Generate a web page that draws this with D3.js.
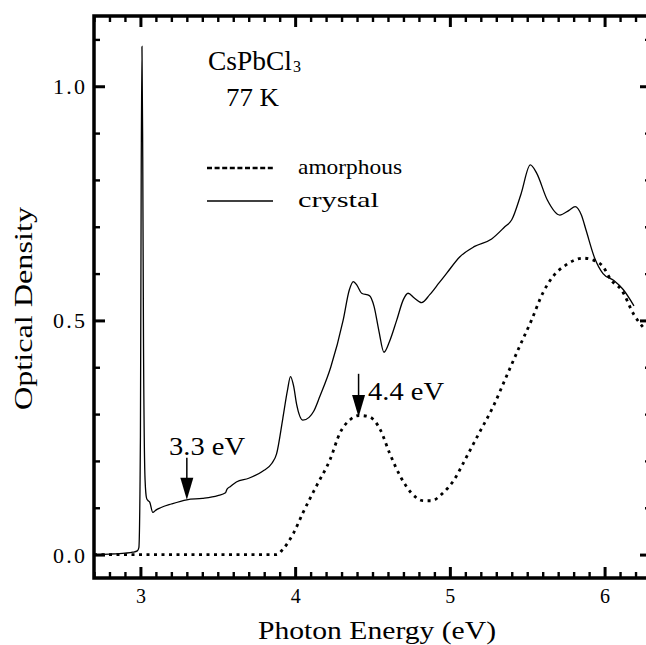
<!DOCTYPE html>
<html>
<head>
<meta charset="utf-8">
<script src="https://cdn.jsdelivr.net/npm/d3@7"></script>
<style>
  html, body { margin: 0; padding: 0; background: #fff; }
  svg { display: block; font-family: "Liberation Serif", serif; }
</style>
</head>
<body>
<div id="chart"></div>
<script>
// Optical density of CsPbCl3 at 77 K: crystal (solid) vs amorphous (dotted) film.
const crystalE = [2.70, 2.80, 2.90, 2.95, 2.98, 2.99, 3.00, 3.005, 3.01, 3.015, 3.02, 3.03, 3.04, 3.05,
  3.06, 3.08, 3.10, 3.13, 3.20, 3.30, 3.40, 3.50, 3.55, 3.56, 3.58, 3.62, 3.70, 3.79, 3.85, 3.88,
  3.92, 3.95, 3.97, 3.99, 4.01, 4.05, 4.09, 4.12, 4.16, 4.23, 4.31, 4.35, 4.376, 4.40, 4.43, 4.48,
  4.51, 4.54, 4.574, 4.61, 4.656, 4.70, 4.73, 4.77, 4.817, 4.87, 4.93, 4.98, 5.065, 5.16, 5.27,
  5.355, 5.40, 5.46, 5.52, 5.56, 5.63, 5.71, 5.77, 5.81, 5.85, 5.88, 5.935, 5.99, 6.06, 6.12, 6.19];
const crystalOD = [0.000, 0.001, 0.003, 0.005, 0.008, 0.015, 0.25, 0.80, 1.085, 0.85, 0.45, 0.16, 0.12, 0.115,
  0.112, 0.090, 0.095, 0.100, 0.108, 0.117, 0.120, 0.126, 0.132, 0.140, 0.145, 0.155, 0.163, 0.178, 0.195, 0.215,
  0.29, 0.35, 0.38, 0.36, 0.32, 0.287, 0.293, 0.306, 0.338, 0.40, 0.50, 0.565, 0.583, 0.575, 0.558, 0.553,
  0.53, 0.48, 0.432, 0.455, 0.50, 0.545, 0.558, 0.548, 0.538, 0.555, 0.58, 0.601, 0.636, 0.658, 0.674,
  0.70, 0.715, 0.77, 0.832, 0.815, 0.757, 0.725, 0.735, 0.743, 0.725, 0.693, 0.634, 0.60, 0.585, 0.566, 0.531];

const amorphE = [2.70, 3.30, 3.88, 3.92, 3.99, 4.05, 4.14, 4.226, 4.29, 4.355, 4.415, 4.48, 4.55, 4.61,
  4.68, 4.75, 4.83, 4.88, 4.957, 5.02, 5.11, 5.19, 5.28, 5.365, 5.45, 5.527, 5.60, 5.667, 5.753,
  5.86, 5.925, 5.99, 6.04, 6.11, 6.19, 6.25];
const amorphOD = [0.000, 0.000, 0.000, 0.011, 0.046, 0.089, 0.148, 0.203, 0.26, 0.288, 0.297, 0.294, 0.267, 0.217,
  0.167, 0.132, 0.115, 0.115, 0.132, 0.156, 0.21, 0.26, 0.316, 0.38, 0.444, 0.50, 0.558, 0.594, 0.619,
  0.633, 0.629, 0.615, 0.587, 0.565, 0.512, 0.485];

const xMajor = [3, 4, 5, 6];
const yMajor = [0.0, 0.5, 1.0];
const yLabels = ["0.0", "0.5", "1.0"];

// arrows: energy, OD at tail, OD at tip, label
const marks = [
  { e: 3.30, from: 0.207, to: 0.117, label: "3.3 eV" },
  { e: 4.41, from: 0.386, to: 0.294, label: "4.4 eV" }
];

const W = 646, H = 645;
const mLeft = 94, mTop = 16, mBottom = 578, mRight = 651;

const x = d3.scaleLinear([2.7, 6.3], [mLeft, mRight]);
const y = d3.scaleLinear([-0.05, 1.15], [mBottom, mTop]);
const xMinor = d3.range(27, 64).map(d => d / 10).filter(d => !xMajor.some(m => Math.abs(m - d) < 1e-9));
const yMinor = d3.range(0, 12).map(d => d / 10).filter(d => !yMajor.some(m => Math.abs(m - d) < 1e-9));

const svg = d3.select("#chart").append("svg")
  .attr("width", W).attr("height", H).attr("viewBox", `0 0 ${W} ${H}`);

svg.append("defs").append("clipPath").attr("id", "plot")
  .append("rect").attr("x", mLeft).attr("y", mTop).attr("width", mRight - mLeft).attr("height", mBottom - mTop);

// ticks, all pointing inward
function axis(gen, tr, vals, size, labels) {
  const g = svg.append("g").attr("transform", tr)
    .call(gen.tickValues(vals).tickSize(-size).tickPadding(9)
      .tickFormat(labels ? (d, i) => labels[i] : () => ""));
  g.select(".domain").remove();
  g.attr("font-family", null).attr("font-size", null);
  g.selectAll(".tick line").attr("stroke", "#000").attr("stroke-width", size > 8 ? 3 : 2.4);
  return g;
}
const gx = axis(d3.axisBottom(x), `translate(0,${mBottom})`, xMajor, 11, xMajor.map(String));
axis(d3.axisBottom(x), `translate(0,${mBottom})`, xMinor, 6);
axis(d3.axisTop(x), `translate(0,${mTop})`, xMajor, 11);
axis(d3.axisTop(x), `translate(0,${mTop})`, xMinor, 6);
const gy = axis(d3.axisLeft(y), `translate(${mLeft},0)`, yMajor, 11, yLabels);
axis(d3.axisLeft(y), `translate(${mLeft},0)`, yMinor, 6);
axis(d3.axisRight(y), `translate(${mRight},0)`, yMajor, 11);
axis(d3.axisRight(y), `translate(${mRight},0)`, yMinor, 6);

gx.selectAll("text").attr("font-size", 20).attr("fill", "#000").attr("dy", null).attr("y", 25);
gy.selectAll("text").attr("font-size", 22).attr("fill", "#000").attr("x", -9).attr("dy", "0.34em")
  .attr("textLength", 32).attr("lengthAdjust", "spacing");

// frame
svg.append("rect").attr("x", mLeft).attr("y", mTop).attr("width", mRight - mLeft).attr("height", mBottom - mTop)
  .attr("fill", "none").attr("stroke", "#000").attr("stroke-width", 3.5);

const line = d3.line().x(d => x(d[0])).y(d => y(d[1])).curve(d3.curveMonotoneX);
const plot = svg.append("g").attr("clip-path", "url(#plot)");

plot.append("path").datum(d3.zip(amorphE, amorphOD))
  .attr("d", line)
  .attr("fill", "none").attr("stroke", "#000").attr("stroke-width", 2.8)
  .attr("stroke-dasharray", "3,4.5");

plot.append("path").datum(d3.zip(crystalE, crystalOD))
  .attr("d", line)
  .attr("fill", "none").attr("stroke", "#000").attr("stroke-width", 1.3);

// arrows
const ann = svg.append("g");
marks.forEach(m => {
  const ax = x(m.e), y0 = y(m.from), y1 = y(m.to);
  ann.append("line").attr("x1", ax).attr("x2", ax).attr("y1", y0).attr("y2", y1 - 18)
    .attr("stroke", "#000").attr("stroke-width", 1.5);
  ann.append("path").attr("d", `M${ax - 6.5},${y1 - 22}L${ax + 6.5},${y1 - 22}L${ax},${y1}Z`).attr("fill", "#000");
});
ann.append("text").attr("x", 169).attr("y", 455).attr("font-size", 26)
  .attr("textLength", 76).attr("lengthAdjust", "spacingAndGlyphs").text(marks[0].label);
ann.append("text").attr("x", 368).attr("y", 400).attr("font-size", 26)
  .attr("textLength", 76).attr("lengthAdjust", "spacingAndGlyphs").text(marks[1].label);

// sample label
svg.append("text").attr("x", 208).attr("y", 70).attr("font-size", 27)
  .attr("textLength", 84).attr("lengthAdjust", "spacingAndGlyphs").text("CsPbCl");
svg.append("text").attr("x", 293).attr("y", 72).attr("font-size", 16).text("3");
svg.append("text").attr("x", 226).attr("y", 106).attr("font-size", 25)
  .attr("textLength", 53).attr("lengthAdjust", "spacingAndGlyphs").text("77 K");

// legend
const legend = [
  { label: "amorphous", dash: "5,2.6", w: 2.6, y: 168, len: 104 },
  { label: "crystal", dash: null, w: 1.3, y: 201, len: 81 }
];
legend.forEach(l => {
  svg.append("line").attr("x1", 207).attr("x2", 273).attr("y1", l.y).attr("y2", l.y)
    .attr("stroke", "#000").attr("stroke-width", l.w).attr("stroke-dasharray", l.dash);
  svg.append("text").attr("x", 298).attr("y", l.y + 6).attr("font-size", 22)
    .attr("textLength", l.len).attr("lengthAdjust", "spacingAndGlyphs").text(l.label);
});

// axis titles
svg.append("text").attr("x", 258).attr("y", 639).attr("font-size", 26)
  .attr("textLength", 238).attr("lengthAdjust", "spacingAndGlyphs").text("Photon Energy (eV)");
svg.append("text").attr("transform", "translate(32,410) rotate(-90)").attr("font-size", 26)
  .attr("textLength", 203).attr("lengthAdjust", "spacingAndGlyphs").text("Optical Density");
</script>
</body>
</html>
